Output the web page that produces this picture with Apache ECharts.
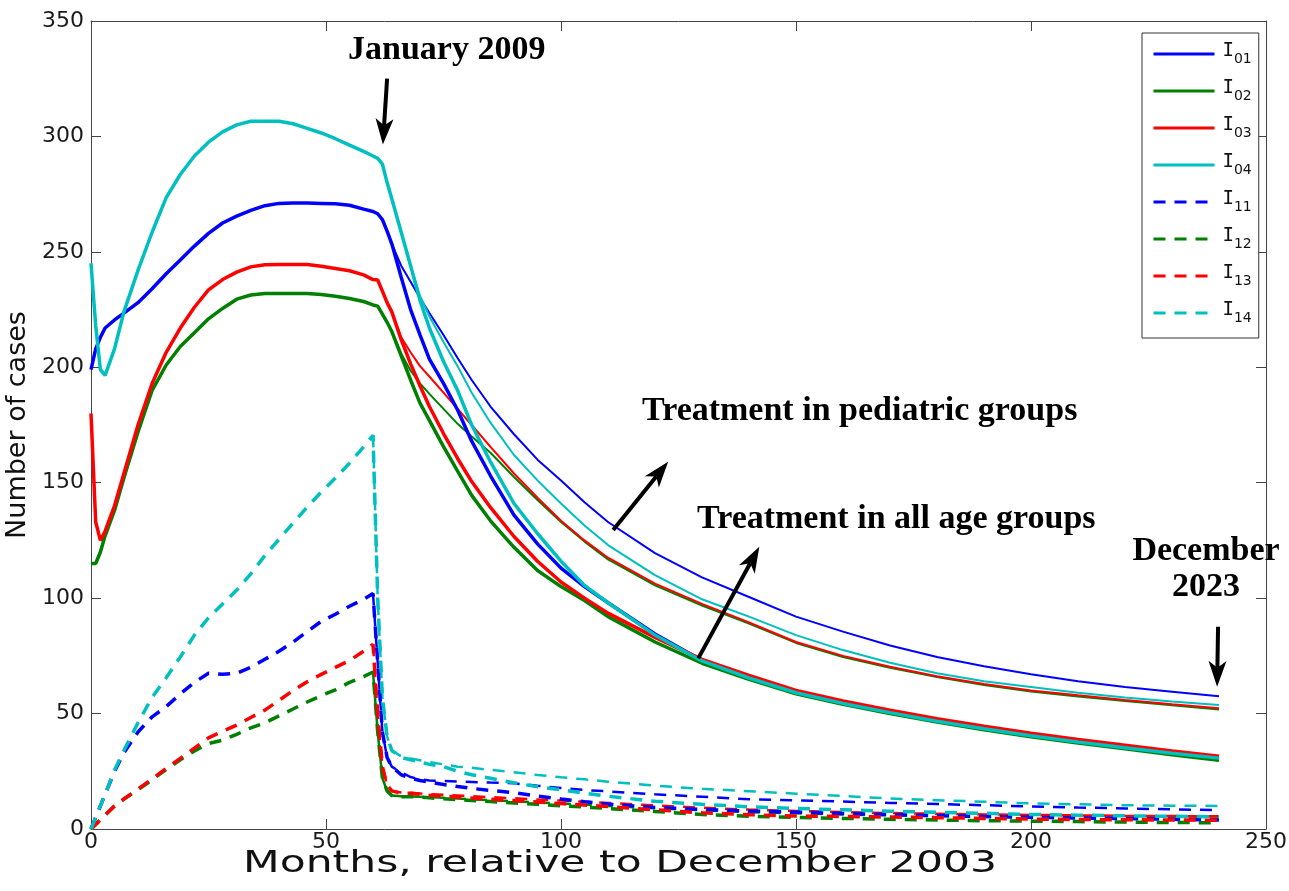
<!DOCTYPE html>
<html><head><meta charset="utf-8">
<script src="https://cdn.jsdelivr.net/npm/echarts@6/dist/echarts.min.js"></script>
<style>html,body{margin:0;padding:0;background:#fff}#c{width:1289px;height:891px}</style>
</head><body><div id="c"></div>
<script>
// ---- data (months relative to December 2003) ----
const PRE_MONTHS = [0,1,2,3,5,7,10,13,16,19,22,25,28,31,34,37,40,43,46,49,52,55,58,60];
const PRE_I01 = [199,208,213,217,220.5,223.5,228,234,240.5,246.5,252.5,258,262.5,265.5,268,270,271,271.2,271.2,271,270.8,270.2,268.5,267.5];
const PRE_I02 = [115,115,120,127,138,152,172,190,201,209,215,221,225.5,229.5,231.3,232,232,232,232,231.5,230.8,229.8,228.5,227];
const PRE_I03 = [180,133,125,129,140,154,175,193,206.5,217,226,233.5,238,241.2,243.5,244.4,244.5,244.5,244.5,243.8,242.8,241.8,240,238];
const PRE_I04 = [245,218,199,196.5,208,224,242,258.5,273.5,283.5,291.5,297.5,302,305,306.6,306.6,306.6,305.5,303.5,301.5,299,296.2,293.5,291.5];
const PRE_I11 = [0,5,10,15,25,33,42,48.6,53,58.5,63.5,67.5,67,67.5,70,73.5,77,81,85.5,90,93,96.5,99.5,102];
const PRE_I12 = [0,2,4,6,10,13,17,21.3,25.8,30,33.8,37,38.5,41,43.8,46,49,52,55,57.8,60.3,63.5,66,68];
const PRE_I13 = [0,2,4,6,10,13,17.3,21.7,26.3,30.6,35,39.5,42.3,45,48.3,51.5,55.7,60,63.8,67,70,73,77,80];
const PRE_I14 = [0,5,10,15,25.5,34,46,57,65.5,74.5,84,91.5,97.5,103.5,110.5,118.5,125.5,132.5,139.5,146,152,158.5,165.5,170.5];

const POST_MONTHS = [60,61,62,63,64,66,68,70,72,75,78,81,85,90,95,100,105,110,120,130,140,150,160,170,180,190,200,210,220,230,240];
// treatment in all age groups
const ALL_I01 = [267.5,266.5,264,259,253.5,239,225,214,203.5,193,181.5,168,153,136,123.5,113,105,98,84.5,73,65.6,59.2,54.5,50.5,46.7,43.4,40.4,37.7,35.2,32.7,30.4];
const ALL_I02 = [227,226.5,223,219.5,215.5,205,194.5,184.5,177,165.6,155,144.5,133.5,122,112,105,99,92,81,71.8,64.8,58.6,54,50,46.3,43,40,37.3,34.8,32.2,29.8];
const ALL_I03 = [238,237.8,233,228,224,212,201.5,192,183,171.3,160.5,150.5,139.3,126.7,116,107,100,93.5,83,73.5,66.5,60,55.5,51.5,47.8,44.5,41.5,38.8,36.3,33.8,31.5];
const ALL_I04 = [291.5,290.5,288,280,273,258.5,244,229,217,202.5,190,175,159,141,128,116,105.5,98,84,72.8,65.4,59,54.4,50.4,46.7,43.4,40.4,37.7,35.2,32.8,30.7];
const ALL_I11 = [102,72,42,31,27,23.5,22,21,20.3,19.3,18.4,17.6,16.7,15.7,14.3,13,11.8,10.8,9.3,8.5,7.8,7.3,6.7,6.2,5.8,5.4,5.1,4.8,4.5,4.2,3.9];
const ALL_I12 = [68,42,22,16.5,14.5,14,14,13.8,13.5,13.1,12.7,12.3,11.9,11.3,10.7,10.1,9.5,8.9,7.6,6.3,5.5,5,4.6,4.2,3.9,3.6,3.4,3.2,3,2.8,2.7];
const ALL_I13 = [80,50,27,19,16.5,15.5,15.5,15,14.6,14.2,13.8,13.4,12.9,12.3,11.7,11,10.4,9.7,8.3,7,6.2,5.6,5.4,5.2,4.9,4.6,4.3,4.1,4,3.9,3.8];
const ALL_I14 = [170.5,100,57,40,34,31,30,29,28,27,25,23.5,22,20,18.3,17,15.5,14.2,12,10.7,9.6,8.9,8.3,7.7,7.2,6.8,6.3,6,5.7,5.5,5.3];
// treatment in pediatric groups
const PED_I01 = [267.5,266.5,264,259,253.5,244,237,230,223.5,214,204,194.5,183,171,160,151,141.5,133,119.5,109,100.5,92,85.5,79.5,74.5,70.5,67,64,61.5,59.5,57.5];
const PED_I02 = [227,226.5,223,219.5,215.5,206,198.5,193,188.5,182,175.5,170,163,152.5,142.5,133,124.5,116.8,105.5,96.8,89,80.6,74.5,69.8,65.8,62.4,59.6,57.4,55.4,53.6,51.8];
const PED_I03 = [238,237.8,233,228,224,213,206.5,200.5,196,189,182,175,165.5,154,143.5,133.5,125,117.5,106.3,97.5,89.5,81,75,70.3,66.2,62.8,60,57.9,55.9,54,52.3];
const PED_I04 = [291.5,290.5,288,280,273,258.5,244,231,222,211,200.5,189,176,162,151,141,131.5,123,110,99.5,92,84,77.5,72,67.5,64,61.5,59,57,55.2,53.7];
const PED_I11 = [102,72,42,31,27,24.5,22.5,21.5,21,20.8,20.6,20.4,20.1,19.8,18.7,17.8,16.9,16.3,15,14,12.9,12.4,11.9,11.3,10.8,10.3,9.8,9.3,8.9,8.5,8.2];
const PED_I12 = [68,42,22,16.5,14.5,14.2,14.1,14,13.8,13.5,13.2,12.9,12.5,12,11.5,11,10.5,10,9,8.1,7.3,6.8,6.3,5.9,5.6,5.3,5.1,4.9,4.7,4.6,4.5];
const PED_I13 = [80,50,27,19,16.5,15.8,15.7,15.4,15.1,14.8,14.5,14.2,13.8,13.3,12.8,12.3,11.8,11.3,10.2,9.2,8.4,7.8,7.3,6.9,6.6,6.3,6.1,5.9,5.7,5.6,5.5];
const PED_I14 = [170.5,100,57,40,34,31.5,30.6,29.8,29,28,27,26.5,25.6,24.6,23.4,22.4,21.5,20.5,18.8,17.4,16.4,15.3,14.3,13.2,12.5,11.8,11.1,10.7,10.3,10.1,10];

const LEGEND_NAMES = ['I01','I02','I03','I04','I11','I12','I13','I14'];
const X_TICKS = [0,50,100,150,200,250];
const Y_TICKS = [0,50,100,150,200,250,300,350];
const X_TITLE = 'Months, relative to December 2003';
const Y_TITLE = 'Number of cases';

// annotation arrows in data coordinates [tail, tip]
const ARROWS = [
  [[63.0,325.0],[62.1,296.5]],
  [[111.1,129.5],[122.8,159.1]],
  [[129.2,73.9],[142.2,122.3]],
  [[239.8,87.6],[239.6,61.6]]
];

// ---- build ----
const COL = {I01:'#0000ff', I02:'#008000', I03:'#ff0000', I04:'#00bfbf', I11:'#0000ff', I12:'#008000', I13:'#ff0000', I14:'#00bfbf'};
function pts(xs, ys){ return xs.map((x,i)=>[x, ys[i]]); }
function full(pre, post){ return pts(PRE_MONTHS, pre).concat(pts(POST_MONTHS.slice(1), post.slice(1))); }
function mk(name, data, color, width, dashed, z){
  return {type:'line', name, data, symbol:'none', showSymbol:false, silent:true, z,
    lineStyle:{color, width, type: dashed ? [12,9] : 'solid'}, itemStyle:{color}, emphasis:{disabled:true}};
}
const PRE = {I01:PRE_I01,I02:PRE_I02,I03:PRE_I03,I04:PRE_I04,I11:PRE_I11,I12:PRE_I12,I13:PRE_I13,I14:PRE_I14};
const ALL = {I01:ALL_I01,I02:ALL_I02,I03:ALL_I03,I04:ALL_I04,I11:ALL_I11,I12:ALL_I12,I13:ALL_I13,I14:ALL_I14};
const PED = {I01:PED_I01,I02:PED_I02,I03:PED_I03,I04:PED_I04,I11:PED_I11,I12:PED_I12,I13:PED_I13,I14:PED_I14};

const series = [];
['I01','I02','I03','I04'].forEach(k => series.push(mk(k+' pediatric', pts(POST_MONTHS, PED[k]), COL[k], 2, false, 2)));
['I11','I12','I13','I14'].forEach(k => series.push(mk(k+' pediatric', pts(POST_MONTHS, PED[k]), COL[k], 2.5, true, 2)));
['I11','I12','I13','I14'].forEach(k => series.push(mk(k, full(PRE[k], ALL[k]), COL[k], 3.5, true, 3)));
['I01','I02','I03','I04'].forEach(k => series.push(mk(k, full(PRE[k], ALL[k]), COL[k], 3.5, false, 4)));

const axisCommon = {
  axisLine:{show:true, onZero:false, lineStyle:{color:'#444', width:1}},
  axisTick:{show:true, inside:true, length:10, lineStyle:{color:'#444', width:1}},
  splitLine:{show:false}
};
const labelStyle = {fontSize:22, fontFamily:'DejaVu Sans', color:'#1a1a1a'};

const option = {
  animation:false,
  backgroundColor:'#ffffff',
  grid:{left:91, right:23, top:21, bottom:62, containLabel:false, outerBoundsMode:'none'},
  xAxis:[
    Object.assign({type:'value', min:X_TICKS[0], max:X_TICKS[X_TICKS.length-1], interval:X_TICKS[1]-X_TICKS[0], position:'bottom',
      axisLabel:Object.assign({margin:2}, labelStyle)}, axisCommon),
    Object.assign({type:'value', min:X_TICKS[0], max:X_TICKS[X_TICKS.length-1], interval:X_TICKS[1]-X_TICKS[0], position:'top',
      axisLabel:{show:false}}, axisCommon)
  ],
  yAxis:[
    Object.assign({type:'value', min:Y_TICKS[0], max:Y_TICKS[Y_TICKS.length-1], interval:Y_TICKS[1]-Y_TICKS[0], position:'left',
      axisLabel:Object.assign({margin:7}, labelStyle),
      name:Y_TITLE, nameLocation:'middle', nameGap:54,
      nameTextStyle:{fontSize:27, fontFamily:'DejaVu Sans', color:'#111'}}, axisCommon),
    Object.assign({type:'value', min:Y_TICKS[0], max:Y_TICKS[Y_TICKS.length-1], interval:Y_TICKS[1]-Y_TICKS[0], position:'right',
      axisLabel:{show:false}}, axisCommon)
  ],
  legend:{
    data:LEGEND_NAMES, orient:'vertical', left:1142, top:33, padding:[9,7,13,10],
    itemWidth:61, itemHeight:14, itemGap:13, selectedMode:false,
    backgroundColor:'#ffffff', borderColor:'#333', borderWidth:1, borderRadius:0,
    lineStyle:{width:3},
    itemStyle:{opacity:0, borderWidth:0},
    formatter: n => '{m|I}{s|' + n.slice(1) + '}',
    textStyle:{rich:{
      m:{fontFamily:'DejaVu Sans Mono', fontSize:19, lineHeight:24, verticalAlign:'top', color:'#111', padding:[0,0,0,3]},
      s:{fontFamily:'DejaVu Sans', fontSize:14, lineHeight:12, verticalAlign:'bottom', color:'#111'}
    }}
  },
  series
};

const chart = echarts.init(document.getElementById('c'), null, {renderer:'canvas', width:1289, height:891});
chart.setOption(option);

function px(p){ return chart.convertToPixel({xAxisIndex:0, yAxisIndex:0}, p); }
const g = [];
ARROWS.forEach(([t, h]) => {
  const a = px(t), b = px(h);
  const dx=b[0]-a[0], dy=b[1]-a[1], L=Math.hypot(dx,dy), ux=dx/L, uy=dy/L, nx=-uy, ny=ux;
  const HL=26, HW=9, NOTCH=7;
  const base=[b[0]-ux*HL, b[1]-uy*HL];
  const mid=[b[0]-ux*(HL-NOTCH), b[1]-uy*(HL-NOTCH)];
  g.push({type:'line', silent:true, z:50, shape:{x1:a[0],y1:a[1],x2:mid[0],y2:mid[1]}, style:{stroke:'#000', lineWidth:4}});
  g.push({type:'polygon', silent:true, z:50, shape:{points:[b,[base[0]+nx*HW, base[1]+ny*HW], mid, [base[0]-nx*HW, base[1]-ny*HW]]}, style:{fill:'#000'}});
});
const FONT = 'bold 34px "Liberation Serif", "Times New Roman", serif';
function txt(s, x, y, align){
  return {type:'text', silent:true, z:60, x, y, style:{text:s, font:FONT, fill:'#000', align:align||'left', verticalAlign:'middle', textAlign:align||'left', textVerticalAlign:'middle'}};
}
g.push(txt('January 2009', 348, 50));
g.push(txt('Treatment in pediatric groups', 642, 411));
g.push(txt('Treatment in all age groups', 697, 519));
g.push(txt('December', 1206, 551, 'center'));
g.push(txt('2023', 1206, 587, 'center'));
// x-axis title (wide lettering as in the original export)
g.push({type:'text', silent:true, z:60, x:620, y:864, scaleX:1.37, scaleY:1,
  style:{text:X_TITLE, font:'31px "DejaVu Sans"', fill:'#111', align:'center', verticalAlign:'middle', textAlign:'center', textVerticalAlign:'middle'}});
chart.setOption({graphic:g});
</script>
</body></html>
